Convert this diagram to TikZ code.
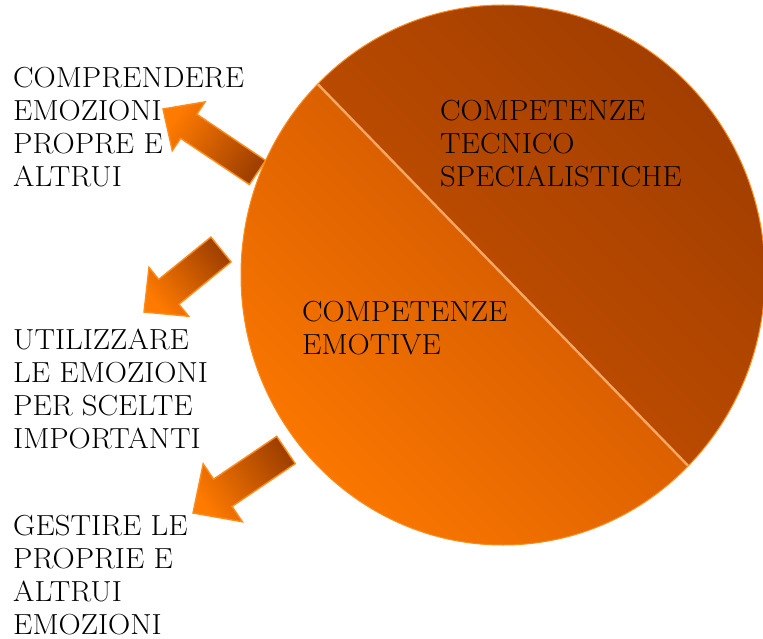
\documentclass[tikz,border=0pt]{standalone}
\usepackage{fontspec}
\setmainfont{Latin Modern Roman}[FakeStretch=1.06]
\usetikzlibrary{calc}
\definecolor{obright}{HTML}{FF7A00}
\definecolor{omid}{HTML}{C85200}
\definecolor{odark}{HTML}{9E3C00}
\definecolor{odeep}{HTML}{A04000}
\definecolor{oline}{HTML}{F5A865}
\definecolor{oedge}{HTML}{FF8C1A}
\tikzset{
  lbl/.style={anchor=north west, align=left, inner sep=0pt,
    font=\fontsize{29}{33}\selectfont, text=black},
  blockarrow/.style={draw=oedge, line width=1.4pt, line join=miter},
}
% #1 tail, #2 tip, #3 shaft width, #4 head width, #5 head length, #6 shading angle
\newcommand{\blockarrowdraw}[6]{%
  \coordinate (H) at ($(#2)!#5pt!(#1)$);
  \path[blockarrow, top color=obright, bottom color=odeep, shading angle=#6]
    ($(#1)!#3pt/2!90:(#2)$) -- ($(H)!#3pt/2!90:(#2)$) -- ($(H)!#4pt/2!90:(#2)$)
    -- (#2) -- ($(H)!#4pt/2!-90:(#2)$) -- ($(H)!#3pt/2!-90:(#2)$)
    -- ($(#1)!#3pt/2!-90:(#2)$) -- cycle;
}
\begin{document}
\begin{tikzpicture}[x=1pt,y=-1pt]
\useasboundingbox (0,0) rectangle (763,639);
\fill[white] (0,0) rectangle (763,639);

% arrows (behind the circle)
\coordinate (a1tail) at (257.5,172.5);
\coordinate (a1tip) at (163,109);
\coordinate (a2tail) at (221,249.5);
\coordinate (a2tip) at (144,312);
\coordinate (a3tail) at (286,450);
\coordinate (a3tip) at (193,513);
\blockarrowdraw{a1tail}{a1tip}{29}{59}{31}{56}
\blockarrowdraw{a2tail}{a2tip}{32}{63}{32}{129}
\blockarrowdraw{a3tail}{a3tip}{33}{70}{36}{124}

% circle
\coordinate (C) at (503,275);
\coordinate (A) at ($(C)+(225:262 and 270)$);
\coordinate (B) at ($(C)+(45:262 and 270)$);
\path[top color=obright, bottom color=omid, shading angle=135]
  (A) arc[start angle=225, end angle=45, x radius=262, y radius=270] -- cycle;
\path[top color=omid, bottom color=odark, shading angle=135]
  (B) arc[start angle=45, end angle=-135, x radius=262, y radius=270] -- cycle;
\draw[oline, line width=2.4pt] (A) -- (B);
\draw[oedge, line width=1pt] (C) ellipse[x radius=262, y radius=270];

% texts
\node[lbl] (t1) at (13,67) {COMPRENDERE\\EMOZIONI\\PROPRE E\\ALTRUI};
\node[lbl] (t2) at (13,329) {UTILIZZARE\\LE EMOZIONI\\PER SCELTE\\IMPORTANTI};
\node[lbl] (t3) at (13,515) {GESTIRE LE\\PROPRIE E\\ALTRUI\\EMOZIONI};
\node[lbl] (c1) at (440,100) {COMPETENZE\\TECNICO\\SPECIALISTICHE};
\node[lbl] (c2) at (302,301) {COMPETENZE\\EMOTIVE};
\end{tikzpicture}
\end{document}
